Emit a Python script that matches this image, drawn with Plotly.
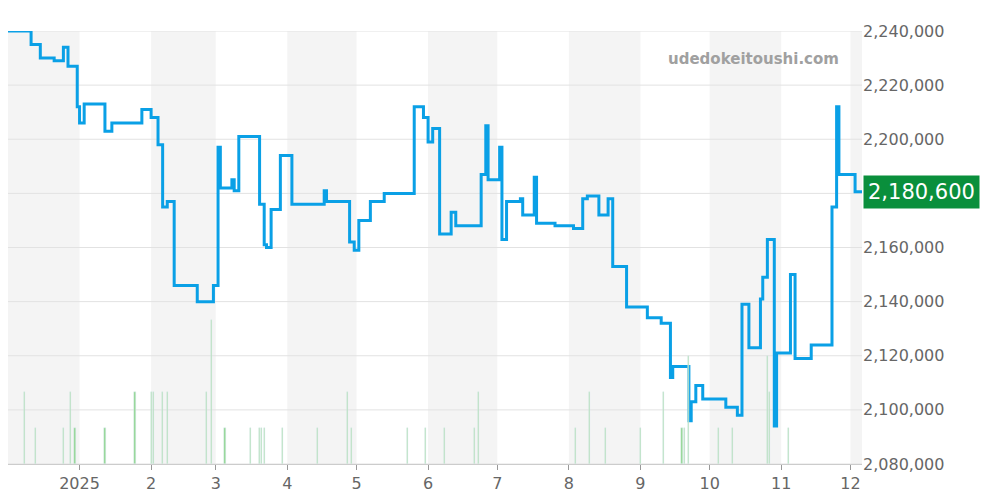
import plotly.graph_objects as go
import pandas as pd

start = pd.Timestamp("2024-12-01")
price_days = [0,10,14,20,24,26,30,31,33,42,45,58,62,65,67,69,72,82,89,91,92,97,98,100,109,111,112,114,118,123,137,138,148,150,152,157,163,176,180,182,184,187,192,194,205,207,208,213,214,216,222,223,228,229,237,245,249,251,256,260,262,268,277,283,287,288,295,296,298,301,311,316,318,321,326,327,329,332,333,339,341,348,357,359,360,367,370]
price_vals = [2240000,2235000,2230000,2229000,2234000,2227000,2212000,2206000,2213000,2203000,2206000,2211000,2208000,2198000,2175000,2177000,2146000,2140000,2146000,2197000,2182000,2185000,2181000,2201000,2176000,2161000,2160000,2174000,2194000,2176000,2181000,2177000,2162000,2159000,2170000,2177000,2180000,2212000,2208000,2199000,2204000,2165000,2173000,2168000,2187000,2205000,2185000,2197000,2163000,2177000,2178000,2172000,2186000,2169000,2168000,2167000,2178000,2179000,2172000,2178000,2153000,2138000,2134000,2132000,2112000,2116000,2096000,2103000,2109000,2104000,2101000,2098000,2139000,2123000,2141000,2149000,2163000,2094000,2121000,2150000,2119000,2124000,2175000,2212000,2187000,2180600,2180600]
vol_days = [7,12,24,27,29,42,55,62,63,67,69,86,88,94,105,109,110,111,119,134,147,149,173,181,189,202,204,246,252,259,274,284,292,293,295,308,314,329,330,338]
vol_vals = [2,1,1,2,1,1,2,2,2,2,2,2,4,1,1,1,1,1,1,1,2,1,1,1,1,1,2,1,2,1,1,2,1,1,3,1,1,3,2,1]
month_ticks = ["2025-01-01","2025-02-01","2025-03-01","2025-04-01","2025-05-01","2025-06-01","2025-07-01","2025-08-01","2025-09-01","2025-10-01","2025-11-01","2025-12-01"]
month_labels = ["2025","2","3","4","5","6","7","8","9","10","11","12"]
y_ticks = [2080000, 2100000, 2120000, 2140000, 2160000, 2200000, 2220000, 2240000]
grid_vals = list(range(2080000, 2240001, 20000))

px = [start + pd.Timedelta(days=d) for d in price_days]
vx = [start + pd.Timedelta(days=d) for d in vol_days]
x_end = start + pd.Timedelta(days=370)

fig = go.Figure()
fig.add_trace(go.Bar(x=vx, y=vol_vals, yaxis="y2", marker_color="#8fd68f",
                     width=0.5*86400000, showlegend=False))
fig.add_trace(go.Scatter(x=px, y=price_vals, mode="lines", line_shape="hv",
                         line=dict(color="#0aa0e6", width=3), showlegend=False))

bands = ["2024-12-01","2025-02-01","2025-04-01","2025-06-01","2025-08-01","2025-10-01","2025-12-01"]
ends = ["2025-01-01","2025-03-01","2025-05-01","2025-07-01","2025-09-01","2025-11-01","2026-01-01"]
for b, e in zip(bands, ends):
    fig.add_shape(type="rect", xref="x", yref="paper", x0=b, x1=e, y0=0, y1=1,
                  fillcolor="#f4f4f4", line_width=0, layer="below")
for g in grid_vals:
    fig.add_shape(type="line", xref="paper", yref="y", x0=0, x1=1, y0=g, y1=g,
                  line=dict(color="#e2e2e2", width=1), layer="below")

fig.update_layout(
    width=1000, height=500, margin=dict(l=0, r=146, t=23, b=44, autoexpand=False),
    plot_bgcolor="white", paper_bgcolor="white", bargap=0,
    xaxis=dict(range=[start, x_end], tickvals=month_ticks, ticktext=month_labels,
               showgrid=False, ticks="outside", ticklen=5, tickcolor="#999",
               tickfont=dict(size=16, color="#666", family="DejaVu Sans"),
               showline=True, linecolor="#ccc"),
    yaxis=dict(side="right", range=[2080000, 2240000], tickvals=y_ticks,
               tickformat=",d", showgrid=False, zeroline=False,
               tickfont=dict(size=16, color="#666", family="DejaVu Sans"), ticklen=0),
    yaxis2=dict(overlaying="y", range=[0, 12], visible=False),
    annotations=[
        dict(text="<b>udedokeitoushi.com</b>", xref="paper", yref="paper", x=0.975, y=0.96,
             xanchor="right", showarrow=False, font=dict(size=15, color="#a0a0a0", family="DejaVu Sans")),
        dict(text="2,180,600", xref="paper", yref="y", x=1.001, y=2180600, xanchor="left",
             showarrow=False, bgcolor="#0a8f3c", borderpad=4,
             font=dict(size=21, color="white", family="DejaVu Sans")),
    ],
)
fig.write_html("out.html")
